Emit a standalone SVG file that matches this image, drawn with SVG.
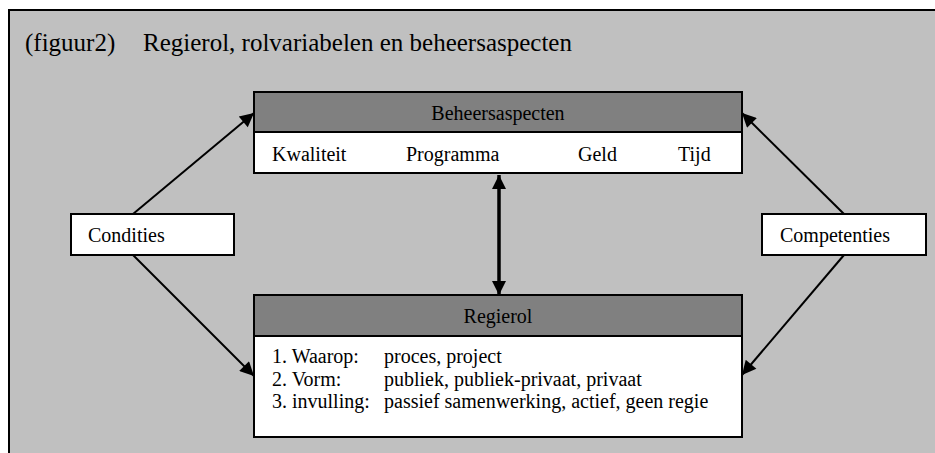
<svg xmlns="http://www.w3.org/2000/svg" width="935" height="453" viewBox="0 0 935 453">
  <style>
    text { font-family: "Liberation Serif", "DejaVu Serif", serif; fill: #000; }
    .t { font-size: 20px; }
    .title { font-size: 25px; }
    .box { fill: #ffffff; stroke: #000; stroke-width: 2; }
    .hdr { fill: #808080; stroke: #000; stroke-width: 2; }
    .ln { stroke: #000; stroke-width: 2; fill: none; }
    .dbl { stroke: #000; stroke-width: 3.5; fill: none; }
  </style>
  <defs>
    <marker id="ah" viewBox="0 0 10 10" refX="10" refY="5" markerWidth="8" markerHeight="7" markerUnits="strokeWidth" orient="auto">
      <path d="M0,0 L10,5 L0,10 z" fill="#000"/>
    </marker>
    <marker id="ah2" viewBox="0 0 10 10" refX="10" refY="5" markerWidth="4.3" markerHeight="4" markerUnits="strokeWidth" orient="auto-start-reverse">
      <path d="M0,0 L10,5 L0,10 z" fill="#000"/>
    </marker>
  </defs>
  <rect x="0" y="0" width="935" height="453" fill="#ffffff"/>
  <rect x="9" y="10" width="940" height="460" fill="#c0c0c0" stroke="#000" stroke-width="2"/>
  <g font-family="Liberation Serif, DejaVu Serif, serif">
  <text class="title" x="25" y="51">(figuur2)</text>
  <text class="title" x="143" y="51">Regierol, rolvariabelen en beheersaspecten</text>
  </g>

  <g id="connectors">
    <line class="ln" x1="133" y1="214" x2="254" y2="113" marker-end="url(#ah)"/>
    <line class="ln" x1="133" y1="255" x2="254" y2="376" marker-end="url(#ah)"/>
    <line class="ln" x1="844" y1="214" x2="742" y2="113" marker-end="url(#ah)"/>
    <line class="ln" x1="844" y1="255" x2="742" y2="375" marker-end="url(#ah)"/>
    <line class="dbl" x1="499" y1="175" x2="499" y2="295" marker-start="url(#ah2)" marker-end="url(#ah2)"/>
  </g>

  <g id="beheersaspecten" font-family="Liberation Serif, DejaVu Serif, serif">
    <rect class="box" x="254" y="92" width="488" height="81"/>
    <rect class="hdr" x="254" y="92" width="488" height="40"/>
    <text class="t" x="498" y="120" text-anchor="middle">Beheersaspecten</text>
    <text class="t" x="272" y="161">Kwaliteit</text>
    <text class="t" x="406" y="161">Programma</text>
    <text class="t" x="578" y="161">Geld</text>
    <text class="t" x="678" y="161">Tijd</text>
  </g>

  <g id="regierol" font-family="Liberation Serif, DejaVu Serif, serif">
    <rect class="box" x="254" y="295" width="488" height="142"/>
    <rect class="hdr" x="254" y="295" width="488" height="41"/>
    <text class="t" x="498" y="323" text-anchor="middle">Regierol</text>
    <text class="t" x="272" y="363">1. Waarop:</text>
    <text class="t" x="384" y="363">proces, project</text>
    <text class="t" x="272" y="386">2. Vorm:</text>
    <text class="t" x="384" y="386">publiek, publiek-privaat, privaat</text>
    <text class="t" x="272" y="408">3. invulling:</text>
    <text class="t" x="384" y="408">passief samenwerking, actief, geen regie</text>
  </g>

  <g id="condities" font-family="Liberation Serif, DejaVu Serif, serif">
    <rect class="box" x="71" y="214" width="163" height="41"/>
    <text class="t" x="88" y="242">Condities</text>
  </g>

  <g id="competenties" font-family="Liberation Serif, DejaVu Serif, serif">
    <rect class="box" x="762" y="214" width="164" height="41"/>
    <text class="t" x="780" y="242">Competenties</text>
  </g>
</svg>
